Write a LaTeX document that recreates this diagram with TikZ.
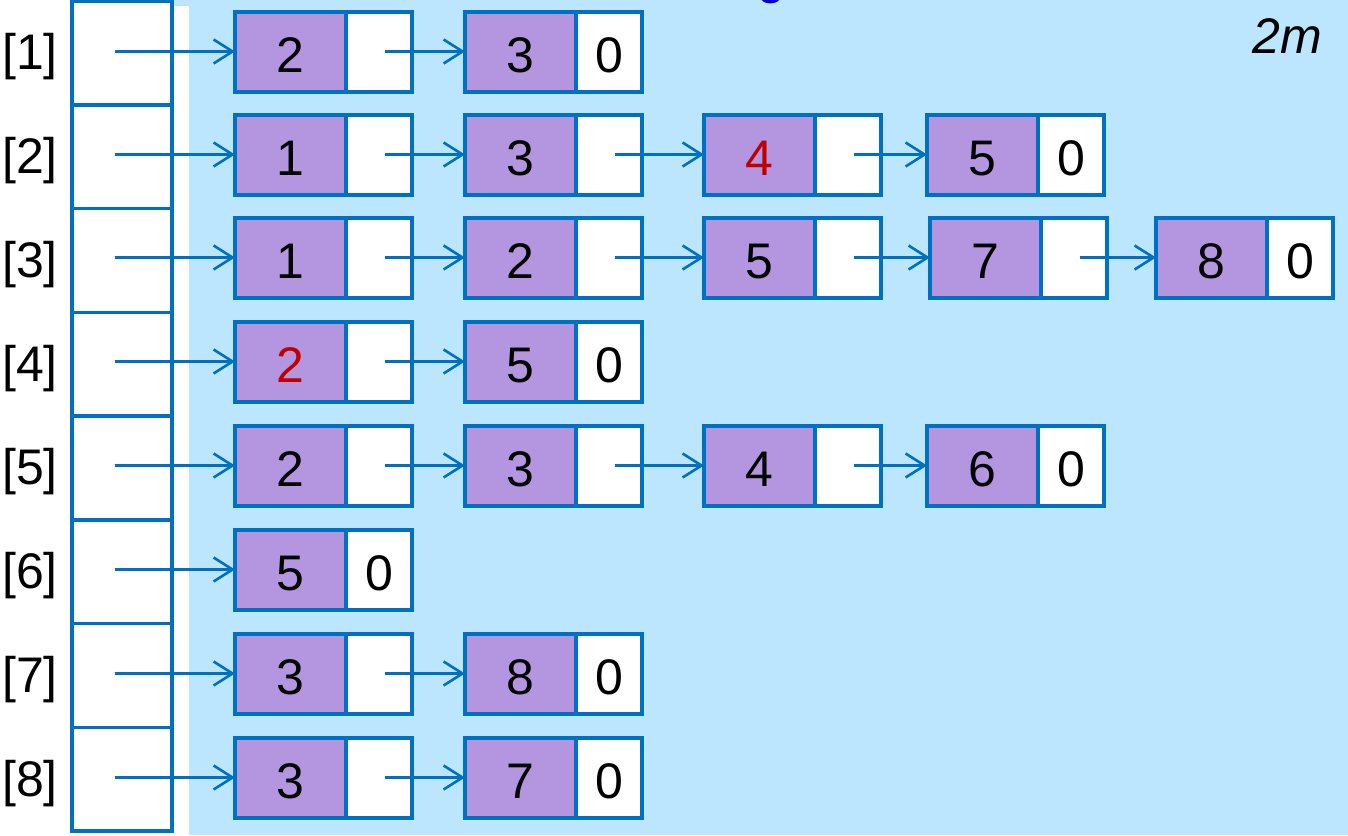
\documentclass[tikz,border=0pt]{standalone}
\usepackage{fontspec}
\setmainfont{Liberation Sans}
\usetikzlibrary{arrows.meta}
\definecolor{bdr}{RGB}{0,112,192}
\definecolor{pur}{RGB}{180,150,224}
\definecolor{bgblue}{RGB}{187,230,253}
\definecolor{rd}{RGB}{192,0,0}
\definecolor{ttl}{RGB}{0,0,204}
\newcommand{\listelem}[5]{%
  \node[pbox] (#1) at (#2,#3) {#4};
  \node[wbox] (#1w) at (#1.east) {#5};}
\begin{document}
\begin{tikzpicture}[x=1pt,y=-1pt,
  cellbox/.style={draw=bdr,line width=3.5pt,minimum width=100pt,minimum height=103.75pt,inner sep=0pt,outer sep=0pt,fill=white},
  pbox/.style={draw=bdr,line width=4pt,fill=pur,minimum width=111pt,minimum height=80pt,inner sep=0pt,outer sep=0pt,font=\fontsize{50}{50}\selectfont,text height=42pt,text depth=0pt},
  wbox/.style={pbox,fill=white,minimum width=66pt,anchor=west},
  lbl/.style={font=\fontsize{50}{50}\selectfont,inner sep=0pt},
  link/.style={draw=bdr,line width=2.6pt,-{Straight Barb[length=19pt,width=24pt]}}
]
\useasboundingbox (0,0) rectangle (1348,835);
\fill[bgblue] (189,0) rectangle (1348,835);
\fill[bgblue] (164,0) rectangle (189,6);
\node[lbl,text=ttl,anchor=base] (ttlg) at (771,-6) {g};
\node[lbl,anchor=base] (twom) at (1287,53) {\itshape 2m};
% array
\foreach \i in {1,...,8}{
  \node[cellbox] (a\i) at (122,{1+103.75*(\i-0.5)}) {};
  \node[lbl] (l\i) at (30,{1+103.75*(\i-0.5)+4}) {[\i]};
}
% row 1
\listelem{r1a}{290.5}{51.5}{2}{}
\listelem{r1b}{520.5}{51.5}{3}{0}
% row 2
\listelem{r2a}{290.5}{154.5}{1}{}
\listelem{r2b}{520.5}{154.5}{3}{}
\listelem{r2c}{759.5}{154.5}{\textcolor{rd}{4}}{}
\listelem{r2d}{982.5}{154.5}{5}{0}
% row 3
\listelem{r3a}{290.5}{257.5}{1}{}
\listelem{r3b}{520.5}{257.5}{2}{}
\listelem{r3c}{759.5}{257.5}{5}{}
\listelem{r3d}{985.5}{257.5}{7}{}
\listelem{r3e}{1211.5}{257.5}{8}{0}
% row 4
\listelem{r4a}{290.5}{361.5}{\textcolor{rd}{2}}{}
\listelem{r4b}{520.5}{361.5}{5}{0}
% row 5
\listelem{r5a}{290.5}{465.5}{2}{}
\listelem{r5b}{520.5}{465.5}{3}{}
\listelem{r5c}{759.5}{465.5}{4}{}
\listelem{r5d}{982.5}{465.5}{6}{0}
% row 6
\listelem{r6a}{290.5}{569.5}{5}{0}
% row 7
\listelem{r7a}{290.5}{673.5}{3}{}
\listelem{r7b}{520.5}{673.5}{8}{0}
% row 8
\listelem{r8a}{290.5}{777.5}{3}{}
\listelem{r8b}{520.5}{777.5}{7}{0}
% head pointers
\foreach \i in {1,...,8}{
  \draw[link] ([xshift=-7pt]a\i.center |- r\i a.west) -- (r\i a.west);
}
% links
\foreach \s/\t in {r1a/r1b, r2a/r2b, r2b/r2c, r2c/r2d, r3a/r3b, r3b/r3c, r3c/r3d, r3d/r3e, r4a/r4b, r5a/r5b, r5b/r5c, r5c/r5d, r7a/r7b, r8a/r8b}{
  \draw[link] ([xshift=6pt]\s w.center) -- (\t.west);
}
\end{tikzpicture}
\end{document}
